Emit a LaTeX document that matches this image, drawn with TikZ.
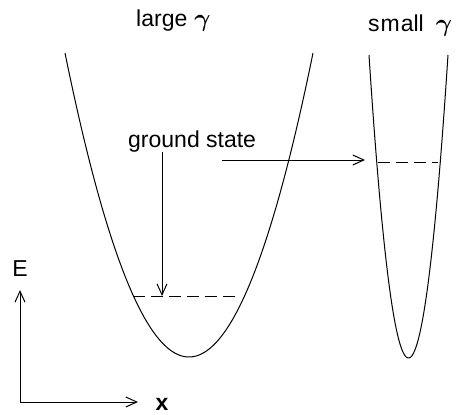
\documentclass[tikz,border=0pt]{standalone}
\usepackage{amsmath}
\usepackage{fontspec}
\setmainfont{Liberation Sans}
\usetikzlibrary{arrows.meta}
\tikzset{
  curve/.style={line width=1pt},
  level/.style={line width=1pt, dash pattern=on 12pt off 6pt},
  pointer/.style={line width=1pt, -{Straight Barb[length=11pt,width=10pt]}},
  lbl/.style={inner sep=0pt, font=\fontsize{23}{27}\selectfont},
}
\newcommand{\biggam}{\fontsize{31}{31}\selectfont$\boldsymbol{\gamma}$}
\begin{document}
\begin{tikzpicture}[x=1pt,y=-1pt]
\useasboundingbox (0,0) rectangle (456,415);
% labels
\node[lbl, anchor=base west] (large) at (136,27) {large\hspace{7pt}\biggam};
\node[lbl, anchor=base west] (small) at (368,31) {s\hspace{1pt}m\hspace{1pt}all\hspace{12pt}\biggam};
\node[lbl, anchor=base west] (gs) at (128,147) {ground state};
\node[lbl] (E) at (20,268.5) {E};
\node[lbl, font=\fontsize{23}{27}\selectfont\bfseries] (X) at (162,404) {x};
% wells
\draw[curve] plot[domain=65:313, samples=120] (\x, {357-304*((\x-189)/124)^2});
\draw[curve] plot[domain=369:448, samples=120] (\x, {358-303*((\x-408.5)/39.5)^2});
% ground state levels
\coordinate (L1) at (133,296);
\coordinate (L2) at (237,296);
\coordinate (S1) at (378,162);
\coordinate (S2) at (438,162);
\draw[level] (L1) -- (L2);
\draw[level] (S1) -- (S2);
% pointers
\coordinate (v0) at (162,152);
\coordinate (v1) at (162,296);
\coordinate (h0) at (222,160);
\coordinate (h1) at (365,160);
\draw[pointer] (v0) -- (v1);
\draw[pointer] (h0) -- (h1);
% axes
\coordinate (O) at (20,402);
\coordinate (Etip) at (20,290);
\coordinate (xtip) at (138,402);
\draw[pointer] (O) -- (Etip);
\draw[pointer] (O) -- (xtip);
\end{tikzpicture}
\end{document}
